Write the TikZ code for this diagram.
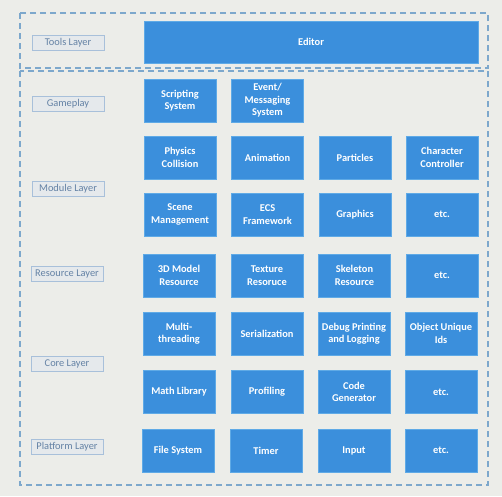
\documentclass[tikz,border=0pt]{standalone}
\usepackage{fontspec}
\setmainfont{Carlito}
\definecolor{bg}{RGB}{236,237,233}
\definecolor{blk}{RGB}{59,143,220}
\definecolor{blkedge}{RGB}{95,170,230}
\definecolor{lblfill}{RGB}{229,233,236}
\definecolor{lbledge}{RGB}{168,192,218}
\definecolor{lbltext}{RGB}{100,130,165}
\definecolor{dashc}{RGB}{125,168,204}
\begin{document}
\begin{tikzpicture}[x=1pt,y=-1pt,
  blkbox/.style={fill=blk,draw=blkedge,line width=0.6pt,text=white,font=\fontsize{10.4}{12.5}\selectfont\bfseries,
    minimum width=72pt,minimum height=43pt,align=center,inner sep=0pt},
  lblbox/.style={fill=lblfill,draw=lbledge,line width=0.8pt,text=lbltext,font=\fontsize{10.4}{12}\selectfont,
    minimum width=72pt,minimum height=15pt,inner sep=0pt},
  layerbox/.style={draw=dashc,line width=1.1pt,dash pattern=on 6pt off 4pt}]
\fill[bg] (0,0) rectangle (502,496);
\useasboundingbox (0,0) rectangle (502,496);
% dashed layer frames
\draw[layerbox] (20,13) rectangle (488,68);
\draw[layerbox] (20,71) rectangle (488,485);
% layer labels
\node[lblbox] (ltools) at (68,42.5) {Tools Layer};
\node[lblbox] (lgame) at (68,103.5) {Gameplay};
\node[lblbox] (lmodule) at (68,188.5) {Module Layer};
\node[lblbox] (lres) at (67,273.5) {Resource Layer};
\node[lblbox] (lcore) at (67,363.5) {Core Layer};
\node[lblbox] (lplat) at (67,446.5) {Platform Layer};
% editor
\node[blkbox,minimum width=334pt,minimum height=42pt] (editor) at (311,42) {Editor};
% gameplay
\node[blkbox] (script) at (180,100.5) {Scripting\\System};
\node[blkbox] (event) at (267.5,100.5) {Event/\\Messaging\\System};
% module
\node[blkbox] (phys) at (180,157.5) {Physics\\Collision};
\node[blkbox] (anim) at (267.5,157.5) {Animation};
\node[blkbox] (part) at (355,157.5) {Particles};
\node[blkbox] (char) at (442,157.5) {Character\\Controller};
\node[blkbox] (scene) at (180,214.5) {Scene\\Management};
\node[blkbox] (ecs) at (267.5,214.5) {ECS\\Framework};
\node[blkbox] (gfx) at (355,214.5) {Graphics};
\node[blkbox] (etc1) at (442,214.5) {etc.};
% resource
\node[blkbox] (model) at (179,275.5) {3D Model\\Resource};
\node[blkbox] (tex) at (267,275.5) {Texture\\Resoruce};
\node[blkbox] (skel) at (354.5,275.5) {Skeleton\\Resource};
\node[blkbox] (etc2) at (442,275.5) {etc.};
% core
\node[blkbox] (multi) at (179,333.5) {Multi-\\threading};
\node[blkbox] (serial) at (267,333.5) {Serialization};
\node[blkbox] (debug) at (354,333.5) {Debug Printing\\and Logging};
\node[blkbox] (uid) at (441,333.5) {Object Unique\\Ids};
\node[blkbox] (math) at (179,392) {Math Library};
\node[blkbox] (prof) at (267,392) {Profiling};
\node[blkbox] (code) at (354,392) {Code\\Generator};
\node[blkbox] (etc3) at (441,392) {etc.};
% platform
\node[blkbox] (fs) at (178,450.5) {File System};
\node[blkbox] (timer) at (266,450.5) {Timer};
\node[blkbox] (input) at (354,450.5) {Input};
\node[blkbox] (etc4) at (441,450.5) {etc.};
\end{tikzpicture}
\end{document}
